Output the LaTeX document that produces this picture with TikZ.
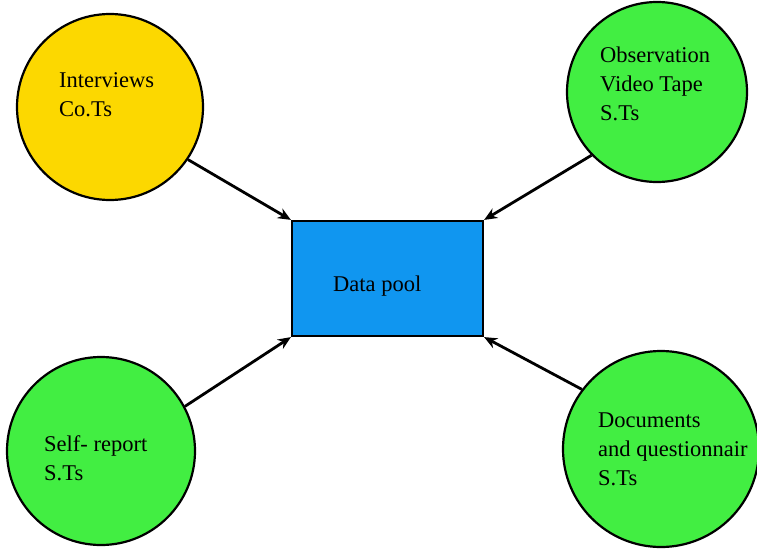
\documentclass[tikz,border=0pt]{standalone}
\usepackage{fontspec}
\setmainfont{Liberation Serif}
\usepackage{tikz}
\usetikzlibrary{positioning, arrows.meta}
\definecolor{srcyellow}{RGB}{252,216,0}
\definecolor{srcgreen}{RGB}{66,238,66}
\definecolor{poolblue}{RGB}{16,150,240}
\tikzset{x=1pt, y=-1pt, % one unit is one pixel, y grows downwards
source/.style={ % Sets the properties for each data source
circle, draw, line width=2.2pt, fill=srcgreen, inner sep=0pt},
srctext/.style={ % text inside a source, set flush left
anchor=north west, align=left, inner sep=0pt,
font=\fontsize{22.5}{29}\selectfont},
every edge/.style={ % Sets the properties for each connector
draw,-{Stealth[length=13pt,width=11pt]}, % directed, with bold arrowheads
line width=2.8pt}}

\begin{document}
\begin{tikzpicture}
    \useasboundingbox (0,0) rectangle (757,551);
    
    \node[source, fill=srcyellow, minimum size=186pt] (intv) at (110,107) {};
    \node[source, minimum size=180pt] (obs) at (657,92) {};
    \node[source, minimum size=188pt] (self) at (101,451) {};
    \node[source, minimum size=196pt] (docs) at (661,449) {};
    
    \node[draw, line width=2.2pt, fill=poolblue, minimum width=191pt, minimum height=115pt] (pool) at (387.5,278.5) {};
    \node[srctext, anchor=base west] (pooltxt) at (333,291) {Data pool};
    
    \node[srctext] (intvtxt) at (59,72) {Interviews\\Co.Ts};
    \node[srctext] (obstxt) at (600,47) {Observation\\Video Tape\\S.Ts};
    \node[srctext] (selftxt) at (44,435) {Self- report\\S.Ts};
    \node[srctext] (docstxt) at (598,413) {Documents\\and questionnair\\S.Ts};
    
    \draw (intv.326) edge (pool.north west);
    \draw (obs.224) edge (pool.north east);
    \draw (self.28) edge (pool.south west);
    \draw (docs.143) edge (pool.south east);
    
\end{tikzpicture}
\end{document}
